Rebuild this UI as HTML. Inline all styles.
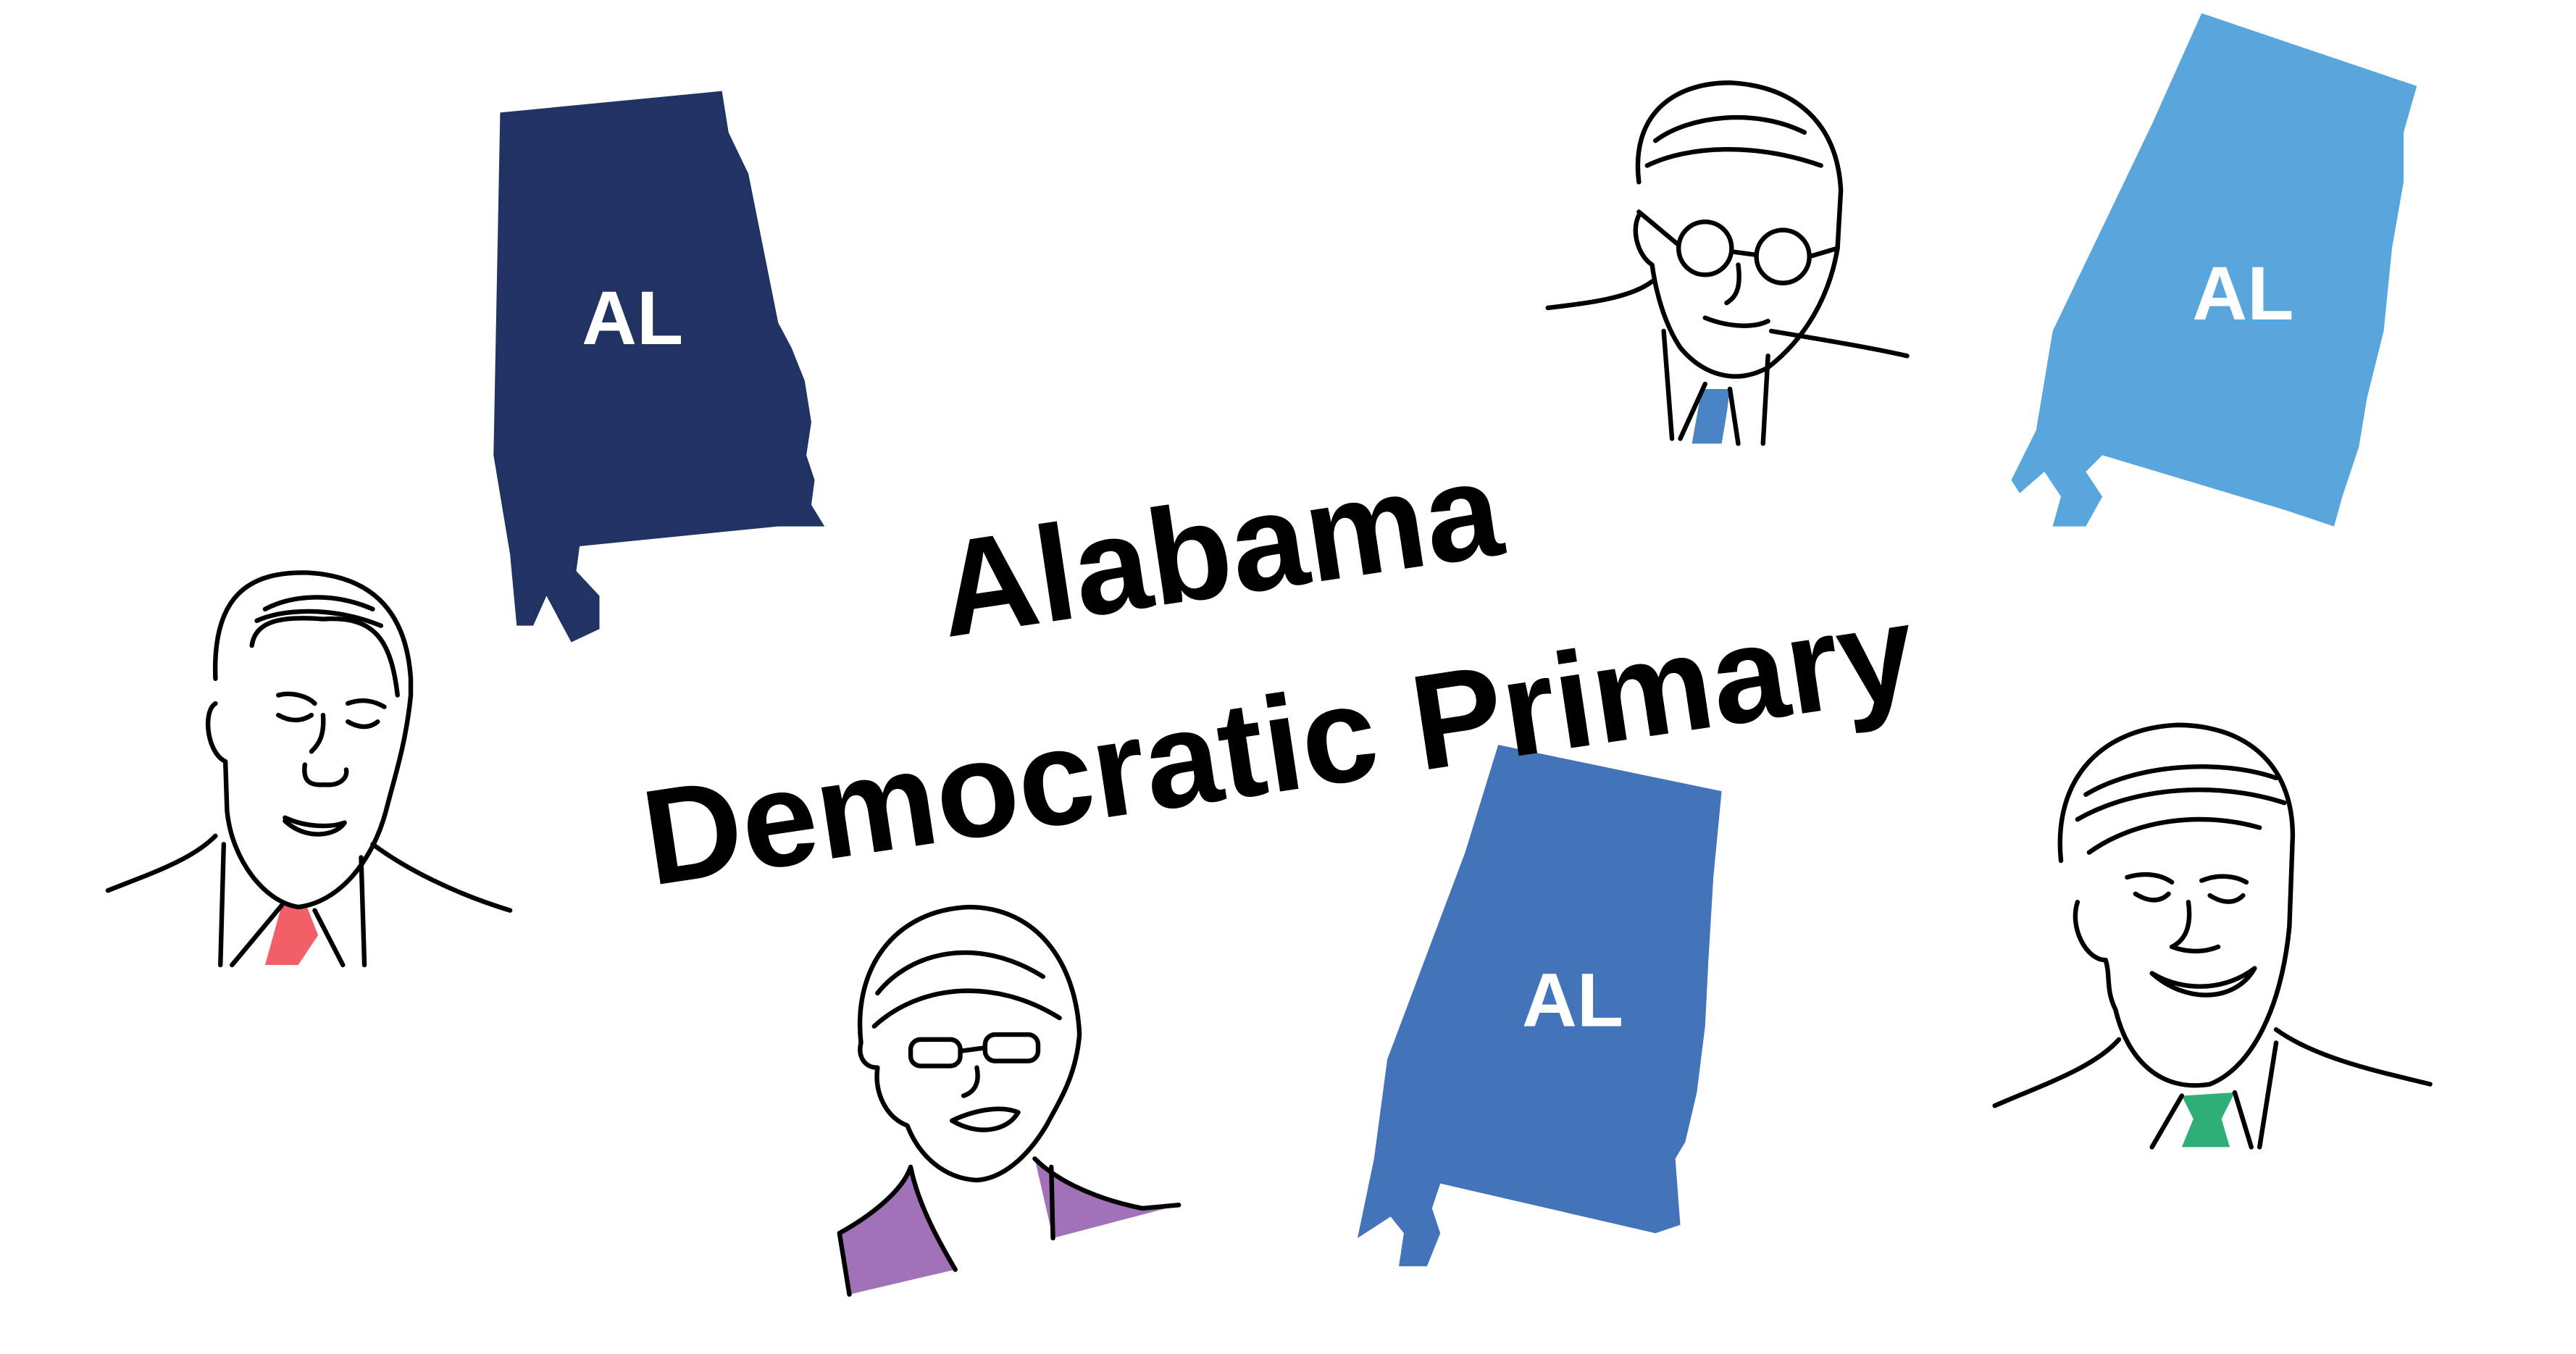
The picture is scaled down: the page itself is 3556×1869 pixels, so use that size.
<!DOCTYPE html>
<html><head><meta charset="utf-8"><style>
html,body{margin:0;padding:0;background:#fff;width:3556px;height:1869px;overflow:hidden}
svg{display:block}
text{font-family:"Liberation Sans","DejaVu Sans",sans-serif;font-weight:bold}
.ln{fill:none;stroke:#000;stroke-width:2.8;stroke-linecap:round;stroke-linejoin:round}
</style></head><body>
<svg width="3556" height="1869" viewBox="0 0 1556 818">
<rect width="1556" height="818" fill="#fff"/>
<g>
<polygon fill="#213362" points="302,68 436,55 440,80 452,105 462,155 470,195 478,210 486,230 490,255 487,275 492,290 490,305 498,318 470,318 350,330 348,345 362,360 362,380 345,388 338,375 330,360 322,378 312,378 308,335 298,275"/>
<text x="382" y="208" fill="#fff" font-size="46" text-anchor="middle">AL</text>
</g>
<g>
<polygon fill="#58a6dc" points="1330,8 1460,52 1452,80 1452,110 1445,150 1440,200 1430,240 1425,270 1415,300 1410,318 1380,308 1270,275 1260,285 1270,300 1260,318 1240,318 1245,300 1235,285 1220,298 1215,290 1230,260 1240,200 1300,75"/>
<text x="1355" y="193" fill="#fff" font-size="46" text-anchor="middle">AL</text>
</g>
<g>
<polygon fill="#4373b8" points="905,450 1040,478 1035,530 1032,580 1030,620 1025,660 1018,690 1012,700 1015,740 1000,745 870,715 865,730 870,745 862,765 845,765 848,745 840,735 820,748 830,700 838,640 885,515"/>
<text x="950" y="620" fill="#fff" font-size="46" text-anchor="middle">AL</text>
</g>
<g transform="rotate(-8.5 770 420)">
<text x="750" y="356" font-size="82" text-anchor="middle" fill="#000">Alabama</text>
<text x="768" y="478" font-size="82" text-anchor="middle" fill="#000">Democratic Primary</text>
</g>
<g>
<path fill="#f06066" d="M170,547 L185,547 L192,565 L180,583 L160,583 Z"/>
<path class="ln" d="M130,410 C128,360 150,345 186,346 C220,348 245,365 248,410 L248,420 C245,450 238,470 233,490 C225,520 205,545 180,548 C160,545 140,520 137,490 L136,460 C125,455 122,430 130,425"/>
<path class="ln" d="M152,390 C154,375 170,372 195,374 C225,372 236,385 240,420"/>
<path class="ln" d="M160,368 C175,360 200,357 225,368 M155,375 C170,368 200,366 230,378"/>
<path class="ln" d="M168,420 C175,418 185,420 190,425 M210,425 C218,422 225,423 232,427 M168,432 C175,436 182,436 188,432 M210,436 C217,440 223,440 228,436"/>
<path class="ln" d="M195,432 C196,445 192,450 188,454 M184,462 C183,470 185,475 196,474 C205,475 210,470 209,465"/>
<path class="ln" d="M172,494 C185,500 200,500 208,497 C203,505 185,508 172,496"/>
<path class="ln" d="M65,538 C90,528 115,520 130,505 M225,510 C245,525 275,540 308,550 M135,510 L133,583 M218,518 L220,583 M140,583 L170,547 M207,583 L190,550"/>
</g>
<g>
<path fill="#4a84c5" d="M1028,235 L1045,235 L1043,250 L1040,268 L1022,268 Z"/>
<path class="ln" d="M990,110 C985,70 1010,50 1045,50 C1085,52 1110,75 1112,115 L1110,150 C1105,180 1090,205 1068,222 C1050,232 1030,228 1015,210 C1005,195 1000,175 998,160 C990,155 985,140 990,130"/>
<path class="ln" d="M1000,85 C1020,70 1060,65 1090,80 M995,100 C1020,88 1060,86 1100,100"/>
<circle class="ln" cx="1030" cy="150" r="16"/><circle class="ln" cx="1077" cy="155" r="16"/>
<path class="ln" d="M1046,152 L1061,154 M1014,148 L990,128 M1093,155 L1110,150"/>
<path class="ln" d="M1050,160 C1052,175 1048,180 1043,183 M1030,192 C1045,198 1060,198 1068,194"/>
<path class="ln" d="M935,186 C960,183 985,180 998,170 M1070,200 C1100,205 1130,210 1152,215 M1005,200 L1010,265 M1068,215 L1065,268 M1015,265 L1030,232 M1050,268 L1045,235"/>
</g>
<g>
<path fill="#a172b8" d="M507,745 C525,735 545,720 550,705 C555,730 570,755 577,767 L513,782 Z M625,700 C640,715 665,725 690,730 L712,728 L636,748 Z"/>
<path class="ln" d="M520,630 C515,585 540,550 585,548 C625,548 650,580 652,625 C650,650 640,665 632,680 C620,700 605,712 590,713 C570,712 555,698 548,680 C535,675 528,660 530,645 C522,645 518,638 520,630"/>
<path class="ln" d="M530,600 C550,575 590,565 630,590 M528,620 C555,595 600,590 640,615"/>
<rect class="ln" x="550" y="628" width="30" height="16" rx="6"/><rect class="ln" x="595" y="625" width="32" height="16" rx="6"/>
<path class="ln" d="M580,635 L595,633"/>
<path class="ln" d="M590,645 C592,655 588,660 582,662 M575,677 C590,670 605,668 615,672 C608,684 590,686 575,677"/>
<path class="ln" d="M507,745 C525,735 545,720 550,705 C555,730 570,755 577,767 M625,700 C640,715 665,725 690,730 L712,728 M636,748 L635,705 M513,782 L507,745"/>
</g>
<g>
<path fill="#2fae78" d="M1318,662 L1350,660 L1342,676 L1347,693 L1318,693 L1325,676 Z"/>
<path class="ln" d="M1245,520 C1240,470 1270,440 1315,438 C1355,438 1385,460 1385,505 L1383,560 C1378,610 1360,645 1335,655 C1305,660 1285,640 1278,610 C1272,598 1275,590 1272,580 C1260,580 1250,560 1255,545"/>
<path class="ln" d="M1260,480 C1290,462 1340,458 1375,470 M1255,495 C1290,475 1340,472 1380,485 M1262,515 C1290,495 1330,490 1365,500"/>
<path class="ln" d="M1285,530 C1295,527 1305,528 1312,533 M1330,532 C1340,528 1350,529 1357,533 M1290,540 C1298,545 1305,545 1310,540 M1335,541 C1343,546 1350,546 1355,541"/>
<path class="ln" d="M1322,545 C1324,560 1320,568 1312,572 C1320,575 1330,576 1340,572"/>
<path class="ln" d="M1300,588 C1320,600 1345,598 1362,585 C1350,606 1320,606 1300,588"/>
<path class="ln" d="M1205,668 C1235,655 1265,645 1280,628 M1375,622 C1400,640 1440,648 1468,655 M1300,693 L1318,662 M1365,693 L1375,630 M1350,660 L1360,693"/>
</g>
</svg>
</body></html>
